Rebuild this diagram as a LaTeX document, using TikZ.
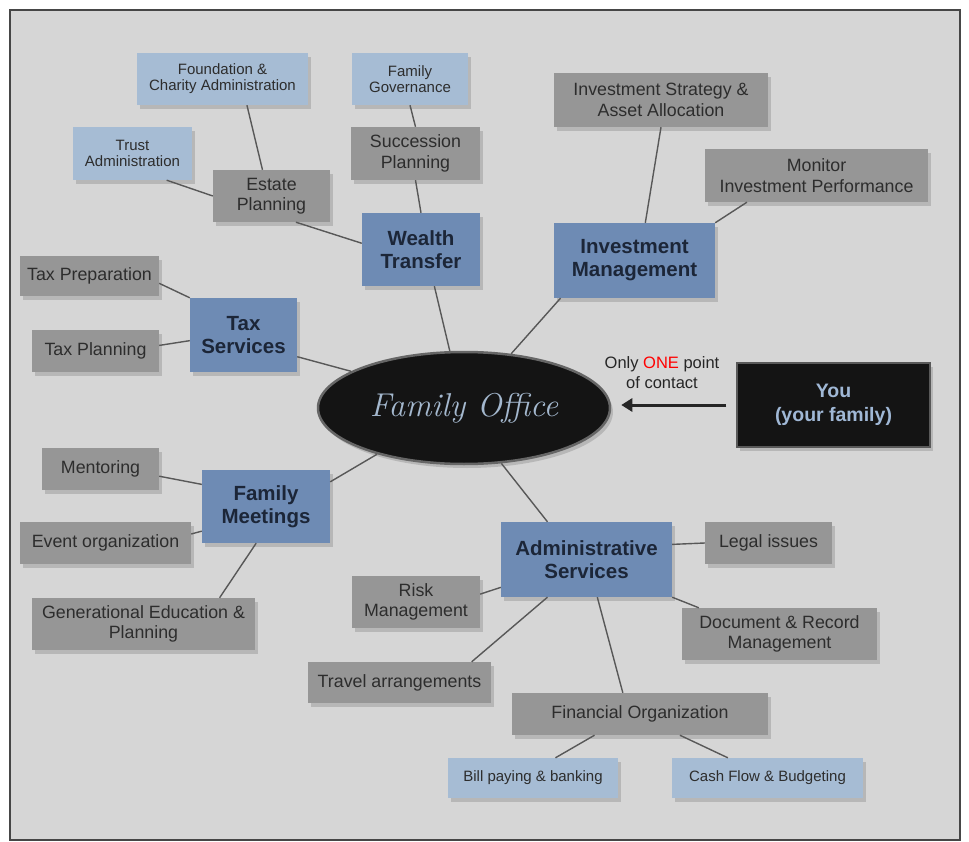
\documentclass[tikz,border=0pt]{standalone}
\usepackage{fontspec}
\newfontfamily\lsans{Liberation Sans}
\usepackage{tikz}
\usetikzlibrary{positioning,shapes,shadows,arrows.meta}

\definecolor{bgcol}{RGB}{214,214,214}
\definecolor{framecol}{RGB}{70,70,70}
\definecolor{boxgray}{RGB}{150,150,150}
\definecolor{boxlight}{RGB}{166,188,212}
\definecolor{boxblue}{RGB}{110,139,180}
\definecolor{txtdark}{RGB}{45,45,45}
\definecolor{txtnavy}{RGB}{28,38,56}
\definecolor{youtxt}{RGB}{160,184,214}
\definecolor{fotxt}{RGB}{164,184,206}
\definecolor{linecol}{RGB}{88,88,88}

\begin{document}
\begin{tikzpicture}[x=1pt, y=-1pt,
  lbl/.style={font=\lsans\fontsize{16.5}{20}\selectfont, align=center, text=black!85, inner sep=1pt},
  sz/.style 2 args={minimum width=#1pt, minimum height=#2pt}]
\tikzstyle{box}=[rectangle, align=center, inner sep=0pt, drop shadow={shadow xshift=3pt, shadow yshift=-4pt, opacity=0.35}]
\tikzstyle{cat}=[box, fill=boxblue, text=txtnavy, font=\lsans\bfseries\fontsize{20.5}{23}\selectfont]
\tikzstyle{sub}=[box, fill=boxgray, text=txtdark, font=\lsans\fontsize{17.8}{20.5}\selectfont]
\tikzstyle{leaf}=[box, fill=boxlight, text=txtdark, font=\lsans\fontsize{15}{16}\selectfont]
\tikzstyle{you}=[box, fill=black!92, draw=gray!70!black, line width=1.5pt, text=youtxt, font=\lsans\bfseries\fontsize{19.5}{24}\selectfont]
\tikzstyle{hub}=[ellipse, fill=black!92, draw=gray!80!black, line width=2.5pt, minimum width=292pt, minimum height=112pt, inner sep=0pt, text=fotxt, font=\itshape\fontsize{33}{36}\selectfont, drop shadow={shadow xshift=3pt, shadow yshift=-4pt, opacity=0.35}]
\tikzstyle{link}=[draw=linecol, line width=1.4pt]
\tikzstyle{pointer}=[draw=black!85, line width=3pt, -{Triangle[length=11pt,width=13pt]}, shorten <=10pt, shorten >=10pt]

\useasboundingbox (0,0) rectangle (969,842);
\draw[draw=framecol, line width=1.5pt, fill=bgcol] (10,10) rectangle (960,840);

% centre and main branches
\node[hub] (fo) at (464,408) {Family Office};
\node[cat, sz={118}{73}] (wealth) at (421,249.5) {Wealth\\Transfer};
\node[cat, sz={161}{75}] (invest) at (634.5,260.5) {Investment\\Management};
\node[cat, sz={107}{74}] (tax) at (243.5,335) {Tax\\Services};
\node[cat, sz={128}{73}] (meet) at (266,506.5) {Family\\Meetings};
\node[cat, sz={171}{75}] (admin) at (586.5,559.5) {Administrative\\Services};
\node[you, sz={193}{84}] (you) at (833.5,405) {You\\(your family)};
\node[lbl] (note) at (662,373) {Only \textcolor{red}{ONE} point\\of contact};

% second level
\node[sub, sz={117}{52}] (estate) at (271.5,196) {Estate\\Planning};
\node[sub, sz={129}{53}] (succ) at (415.5,153.5) {Succession\\Planning};
\node[sub, sz={214}{54}] (strat) at (661,100) {Investment Strategy \&\\Asset Allocation};
\node[sub, sz={223}{53}] (monitor) at (816.5,175.5) {Monitor\\Investment Performance};
\node[sub, sz={139}{40}] (taxprep) at (89.5,276) {Tax Preparation};
\node[sub, sz={127}{42}] (taxplan) at (95.5,351) {Tax Planning};
\node[sub, sz={117}{42}] (mentor) at (100.5,469) {Mentoring};
\node[sub, sz={171}{42}] (event) at (105.5,543) {Event organization};
\node[sub, sz={223}{52}] (gen) at (143.5,624) {Generational Education \&\\Planning};
\node[sub, sz={128}{52}] (risk) at (416,602) {Risk\\Management};
\node[sub, sz={183}{41}] (travel) at (399.5,682.5) {Travel arrangements};
\node[sub, sz={127}{42}] (legal) at (768.5,543) {Legal issues};
\node[sub, sz={195}{52}] (doc) at (779.5,634) {Document \& Record\\Management};
\node[sub, sz={256}{42}] (fin) at (640,714) {Financial Organization};

% third level
\node[leaf, sz={171}{52}] (found) at (222.5,79) {Foundation \&\\Charity Administration};
\node[leaf, sz={116}{52}] (gov) at (410,79) {Family\\Governance};
\node[leaf, sz={119}{53}] (trust) at (132.5,153.5) {Trust\\Administration};
\node[leaf, sz={170}{40}] (bill) at (533,778) {Bill paying \& banking};
\node[leaf, sz={191}{40}] (cash) at (767.5,778) {Cash Flow \& Budgeting};

\foreach \a/\b in {trust.-38/estate.west, found.-47/estate.109, gov.south/succ.north,
  succ.south/wealth.north, estate.-47/wealth.174, wealth.-70/fo.104,
  taxprep.-6/tax.north west, taxplan.5/tax.186, tax.-22/fo.162,
  strat.south/invest.74, monitor.201/invest.north east, invest.207/fo.49,
  mentor.-7/meet.161, event.6/meet.201, gen.19/meet.255, meet.21/fo.208,
  fo.-56/admin.136, admin.10/legal.west, admin.south east/doc.162,
  admin.198/risk.7, admin.224/travel.16, admin.-74/fin.129,
  fin.205/bill.42, fin.-28/cash.153}{
\draw[link] (\a) -- (\b);
}
\draw[pointer] (you.west) -- (you.west -| fo.east);
\end{tikzpicture}
\end{document}
